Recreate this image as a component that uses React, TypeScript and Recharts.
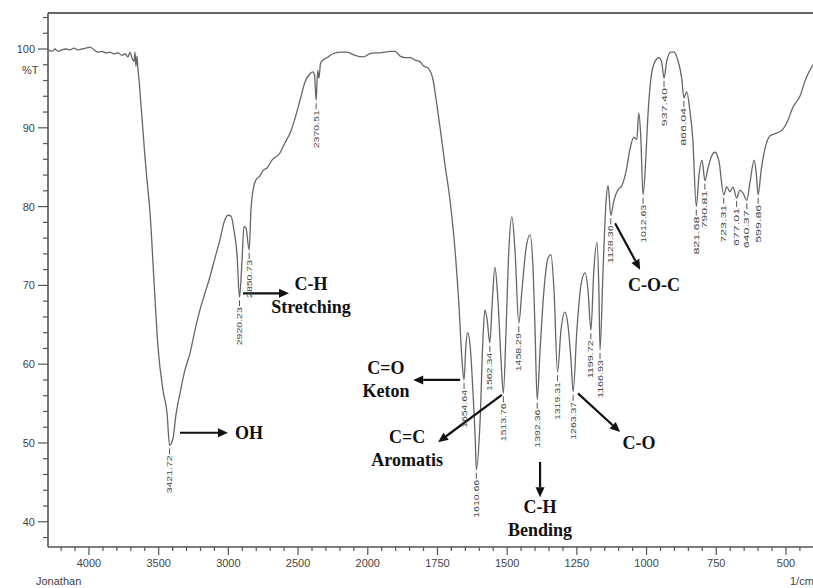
import React from 'react';
import { ComposedChart, Line, XAxis, YAxis, Scatter, ReferenceLine } from 'recharts';

// Spectrum (wavenumber in 1/cm, %T)
const wavenumbers = [
  4294, 4265, 4244, 4222, 4194, 4165, 4136, 4108, 4079, 4050, 4022, 3993, 3964, 3935, 3907, 3878, 3849, 3821,
  3792, 3763, 3742, 3720, 3706, 3692, 3677, 3670, 3663, 3656, 3648, 3641, 3627, 3613, 3598, 3584, 3562, 3534,
  3505, 3469, 3440, 3421.72, 3397, 3376, 3347, 3311, 3275, 3240, 3204, 3168, 3132, 3096, 3060, 3031, 3003,
  2981, 2960, 2938, 2920.23, 2902, 2888, 2874, 2850.73, 2838, 2823, 2802, 2773, 2752, 2723, 2687, 2630, 2594,
  2558, 2522, 2486, 2450, 2422, 2393, 2382, 2370.51, 2359, 2350, 2339, 2321, 2293, 2250, 2199, 2149, 2092, 2034,
  1992, 1974, 1956, 1938, 1921, 1902, 1884, 1866, 1848, 1830, 1813, 1798, 1784, 1766, 1752, 1741, 1723, 1705,
  1687, 1673, 1662, 1654.64, 1648, 1642, 1633, 1623, 1614, 1610.66, 1597, 1587, 1580, 1572, 1562.34, 1554, 1544,
  1533, 1522, 1513.76, 1504, 1494, 1483, 1472, 1458.29, 1447, 1433, 1418, 1407, 1400, 1392.36, 1382, 1368, 1353,
  1343, 1332, 1319.31, 1307, 1293, 1282, 1271, 1263.37, 1250, 1235, 1221, 1210, 1199.72, 1189, 1178, 1171,
  1166.93, 1156, 1145, 1138, 1128.36, 1117, 1103, 1088, 1074, 1060, 1046, 1035, 1028, 1021, 1012.63, 1003, 996,
  985, 970, 956, 946, 937.4, 928, 913, 902, 888, 874, 866.04, 856, 845, 834, 821.68, 812, 801, 790.81, 780, 769,
  755, 740, 723.31, 712, 701, 690, 677.01, 665, 654, 640.37, 629, 614, 607, 599.86, 589, 575, 557, 536, 514, 496,
  475, 450, 428, 403,
];
const transmittance = [
  99.9, 99.7, 100.0, 99.7, 99.9, 100.0, 99.9, 100.1, 99.9, 100.0, 100.1, 100.25, 99.9, 99.6, 99.7, 99.5, 99.6, 99.4,
  99.5, 99.2, 99.4, 99.0, 99.6, 98.9, 98.4, 99.6, 97.8, 99.1, 97.3, 96.1, 92.9, 89.7, 86.2, 83.4, 79.2, 70.7,
  62.2, 56.7, 53.8, 49.7, 50.6, 53.6, 56.3, 59.3, 61.4, 64.3, 66.9, 69.0, 71.1, 73.5, 75.8, 78.0, 78.9,
  78.8, 77.0, 73.9, 68.5, 73.2, 77.5, 77.3, 74.5, 79.6, 82.1, 83.4, 83.9, 84.6, 84.9, 85.9, 86.8, 88.1,
  89.3, 91.2, 93.5, 95.8, 96.7, 97.1, 96.7, 93.5, 97.3, 96.3, 98.2, 98.6, 98.9, 99.4, 99.6, 99.6, 99.2, 99.0,
  99.4, 99.5, 99.5, 99.6, 99.7, 99.7, 99.1, 98.9, 98.9, 98.6, 98.4, 97.8, 97.6, 96.1, 92.9, 90.1, 85.3, 80.8,
  74.5, 67.5, 60.5, 58.0, 62.4, 64.0, 62.4, 56.7, 50.0, 46.6, 52.9, 63.1, 66.9, 65.7, 62.7, 67.5, 72.3,
  68.1, 60.5, 56.3, 64.3, 74.5, 78.7, 74.5, 65.2, 69.4, 74.5, 76.4, 72.0, 64.3, 55.5, 61.8, 69.4, 73.5,
  73.9, 69.4, 59.0, 64.3, 66.6, 65.0, 60.5, 56.5, 64.3, 70.1, 71.6, 69.4, 64.3, 72.0, 75.5, 69.4,
  61.8, 72.0, 80.8, 82.7, 78.9, 80.8, 82.1, 82.7, 84.4, 87.2, 88.8, 88.5, 91.9, 89.1, 81.5, 85.9, 91.0,
  96.1, 98.4, 98.9, 98.4, 96.3, 98.4, 99.6, 99.6, 98.6, 96.3, 93.8, 94.6, 92.3, 88.5, 80.0, 84.0, 85.9, 83.3, 84.8, 86.2,
  86.9, 85.7, 81.5, 82.5, 81.9, 82.5, 81.1, 82.1, 81.7, 80.8, 83.1, 85.9, 84.4, 81.5, 84.6, 87.4, 89.0, 89.3, 89.7, 90.7,
  92.6, 94.0, 96.3, 98.0,
];

// Labelled peaks
const peakWavenumbers = [
  3421.72, 2920.23, 2850.73, 2370.51, 1654.64, 1610.66, 1562.34, 1513.76, 1458.29, 1392.36, 1319.31, 1263.37,
  1199.72, 1166.93, 1128.36, 1012.63, 937.4, 866.04, 821.68, 790.81, 723.31, 677.01, 640.37, 599.86,
];

// Axis ticks
const xMajorTicks = [4000, 3500, 3000, 2500, 2000, 1750, 1500, 1250, 1000, 750, 500];
const yMajorTicks = [40, 50, 60, 70, 80, 90, 100];

// Functional-group annotations: arrow tail/head and text anchor (wavenumber, %T)
const annotationNames = ['OH', 'CH_str', 'CO_keton', 'CC_arom', 'CH_bend', 'C_O', 'COC'];
const annotationLines = [
  ['OH'],
  ['C-H', 'Stretching'],
  ['C=O', 'Keton'],
  ['C=C', 'Aromatis'],
  ['C-H', 'Bending'],
  ['C-O'],
  ['C-O-C'],
];
const arrowFrom = [
  [3347, 51.3], [2895, 69.0], [1669, 58.0], [1519, 56.1], [1382, 47.6], [1246, 56.3], [1113, 77.9],
];
const arrowTo = [
  [3003, 51.3], [2565, 69.0], [1837, 58.0], [1748, 50.1], [1382, 43.1], [1095, 51.4], [1023, 72.0],
];
const textAt = [
  [2852, 51.3], [2407, 70.2], [1935, 59.5], [1859, 50.8], [1382, 41.9], [1027, 50.0], [973, 70.05],
];

// Axis mapping used by the instrument: 4000-2000 at 500/div, 2000-400 at 250/div
const toPos = (wn: number) => (wn >= 2000 ? (4000 - wn) / 500 : 4 + (2000 - wn) / 250);
const fromPos = (p: number) => (p <= 4 ? 4000 - p * 500 : 2000 - (p - 4) * 250);

const X_DOMAIN: [number, number] = [toPos(4294), toPos(403)];
const Y_DOMAIN: [number, number] = [36.8, 104.57];

const spectrum = wavenumbers.map((w, i) => ({ pos: toPos(w), t: transmittance[i] }));
const peaks = peakWavenumbers.map((w) => {
  const i = wavenumbers.indexOf(w);
  return { pos: toPos(w), t: transmittance[i], label: w.toFixed(2) };
});
const annoTexts = annotationNames.map((n, i) => ({
  pos: toPos(textAt[i][0]),
  t: textAt[i][1],
  lines: annotationLines[i],
  name: n,
}));

const xTicks: number[] = [];
for (let k = -2; k <= 51; k++) {
  const p = k * 0.2;
  if (p >= X_DOMAIN[0] && p <= X_DOMAIN[1]) xTicks.push(Math.round(p * 1000) / 1000);
}
const yTicks: number[] = [];
for (let v = 38; v <= 104; v += 2) yTicks.push(v);

const AXIS = '#555';
const TEXT = '#444';
const SANS = 'Liberation Sans, Arial, sans-serif';
const SERIF = 'Liberation Serif, Times New Roman, serif';

const XTick = (props: any) => {
  const { x, y, payload } = props;
  const p = payload.value as number;
  const major = xMajorTicks.some((w) => Math.abs(toPos(w) - p) < 1e-6);
  return (
    <g>
      <line x1={x} y1={y} x2={x} y2={y + (major ? 8 : 4)} stroke={AXIS} strokeWidth={1.2} />
      {major && (
        <text x={x} y={y + 20} textAnchor="middle" fontSize={11} fill={TEXT} fontFamily={SANS}>
          {Math.round(fromPos(p))}
        </text>
      )}
    </g>
  );
};

const YTick = (props: any) => {
  const { x, y, payload } = props;
  const v = payload.value as number;
  const major = yMajorTicks.includes(v);
  return (
    <g>
      <line x1={x - (major ? 10 : 5)} y1={y} x2={x} y2={y} stroke={AXIS} strokeWidth={1.2} />
      {major && (
        <text x={x - 13} y={y + 4} textAnchor="end" fontSize={11} fill={TEXT} fontFamily={SANS}>
          {v}
        </text>
      )}
    </g>
  );
};

const PeakLabel = (props: any) => {
  const { cx, cy, payload } = props;
  if (cx == null || cy == null) return <g />;
  const ty = cy + 10;
  return (
    <g>
      <line x1={cx} y1={cy + 3} x2={cx} y2={cy + 9} stroke="#555" strokeWidth={1} />
      <text
        x={cx}
        y={ty}
        transform={`rotate(-90 ${cx} ${ty})`}
        textAnchor="end"
        dominantBaseline="central"
        fontSize={8}
        fill="#444"
        fontFamily={SANS}
        textLength={38}
        lengthAdjust="spacingAndGlyphs"
      >
        {payload.label}
      </text>
    </g>
  );
};

const AnnoText = (props: any) => {
  const { cx, cy, payload } = props;
  if (cx == null || cy == null) return <g />;
  return (
    <text x={cx} y={cy + 6} textAnchor="middle" fontFamily={SERIF} fontWeight="bold" fontSize={18} fill="#111">
      {payload.lines.map((l: string, i: number) => (
        <tspan key={i} x={cx} dy={i === 0 ? 0 : 23}>
          {l}
        </tspan>
      ))}
    </text>
  );
};

const ArrowShape = (props: any) => {
  const { x1, y1, x2, y2 } = props;
  if ([x1, y1, x2, y2].some((v) => v == null || isNaN(v))) return <g />;
  const a = Math.atan2(y2 - y1, x2 - x1);
  const L = 10;
  const W = 4.5;
  const bx = x2 - L * Math.cos(a);
  const by = y2 - L * Math.sin(a);
  const pts = `${x2},${y2} ${bx - W * Math.sin(a)},${by + W * Math.cos(a)} ${bx + W * Math.sin(a)},${by - W * Math.cos(a)}`;
  return (
    <g>
      <line x1={x1} y1={y1} x2={bx} y2={by} stroke="#111" strokeWidth={2.2} />
      <polygon points={pts} fill="#111" />
    </g>
  );
};

export default function App() {
  return (
    <div style={{ position: 'relative', width: 813, height: 588, background: '#fff', overflow: 'hidden' }}>
      <style>{'html,body{margin:0;padding:0;overflow:hidden;background:#fff}'}</style>
      <ComposedChart width={813} height={588} margin={{ top: 13, right: 0, bottom: 0, left: 0 }}>
        <XAxis
          dataKey="pos"
          type="number"
          domain={X_DOMAIN}
          allowDataOverflow
          ticks={xTicks}
          interval={0}
          tick={<XTick />}
          tickLine={false}
          tickSize={0}
          tickMargin={0}
          axisLine={{ stroke: AXIS, strokeWidth: 1.6 }}
          height={41}
        />
        <YAxis
          dataKey="t"
          type="number"
          domain={Y_DOMAIN}
          allowDataOverflow
          ticks={yTicks}
          interval={0}
          tick={<YTick />}
          tickLine={false}
          tickSize={0}
          tickMargin={0}
          axisLine={{ stroke: AXIS, strokeWidth: 1.6 }}
          width={48}
        />
        <ReferenceLine y={Y_DOMAIN[1]} stroke="#666" strokeWidth={2} />
        <Line
          data={spectrum}
          dataKey="t"
          type="monotoneX"
          stroke="#666"
          strokeWidth={1.3}
          dot={false}
          isAnimationActive={false}
        />
        <Scatter data={peaks} dataKey="t" shape={<PeakLabel />} isAnimationActive={false} />
        <Scatter data={annoTexts} dataKey="t" shape={<AnnoText />} isAnimationActive={false} />
        {annotationNames.map((n, i) => (
          <ReferenceLine
            key={n}
            segment={[
              { x: toPos(arrowFrom[i][0]), y: arrowFrom[i][1] },
              { x: toPos(arrowTo[i][0]), y: arrowTo[i][1] },
            ]}
            shape={<ArrowShape />}
            ifOverflow="visible"
          />
        ))}
      </ComposedChart>
      <div style={{ position: 'absolute', left: 22, top: 64, fontSize: 11, color: TEXT, fontFamily: SANS }}>%T</div>
      <div style={{ position: 'absolute', left: 36, top: 575, fontSize: 11, color: TEXT, fontFamily: SANS }}>Jonathan</div>
      <div style={{ position: 'absolute', left: 790, top: 575, fontSize: 11, color: TEXT, fontFamily: SANS }}>1/cm</div>
    </div>
  );
}
